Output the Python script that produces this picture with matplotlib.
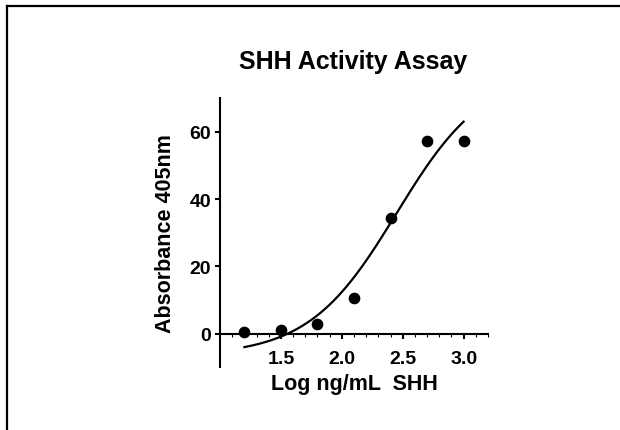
import matplotlib
matplotlib.use("Agg")
import matplotlib.pyplot as plt
from matplotlib.lines import Line2D
import numpy as np

# measured points
log_conc = [1.2, 1.5, 1.8, 2.1, 2.4, 2.7, 3.0]
absorbance = [0.6, 1.1, 2.8, 10.7, 34.4, 57.3, 57.3]

# 4PL fit parameters (bottom, top, logEC50, hill slope)
fit_bottom = -6.6
fit_top = 78.3
fit_log_ec50 = 2.45
fit_hill = 1.2

x_ticks = [1.5, 2.0, 2.5, 3.0]
y_ticks = [0, 20, 40, 60]

plt.rcParams['font.family'] = ['Liberation Sans', 'DejaVu Sans']
plt.rcParams['font.weight'] = 'bold'

fig = plt.figure(figsize=(6.2, 4.31), dpi=100)
ax = fig.add_axes([0.355, 0.1455, 0.432, 0.624])

x_fit = np.linspace(min(log_conc), max(log_conc), 200)
y_fit = fit_bottom + (fit_top - fit_bottom) / (1 + 10 ** ((fit_log_ec50 - x_fit) * fit_hill))
ax.plot(x_fit, y_fit, color='black', lw=1.6, zorder=3)
ax.plot(log_conc, absorbance, 'o', color='black', markersize=7.4, clip_on=False, zorder=4)

ax.set_xlim(1.0, 3.2)
ax.set_ylim(-10, 70)
ax.set_xticks(x_ticks)
ax.set_xticks(np.arange(1.1, 3.21, 0.1), minor=True)
ax.set_yticks(y_ticks)
ax.set_xticklabels(['%.1f' % t for t in x_ticks])

ax.spines['top'].set_visible(False)
ax.spines['right'].set_visible(False)
ax.spines['bottom'].set_position(('data', 0))
ax.spines['left'].set_linewidth(1.5)
ax.spines['bottom'].set_linewidth(1.5)

ax.tick_params(axis='x', which='major', direction='out', length=3.6, width=1.5,
               pad=8, labelsize=14)
ax.tick_params(axis='x', which='minor', direction='out', length=1.8, width=0.8)
ax.tick_params(axis='y', direction='out', length=3.6, width=1.5, pad=3, labelsize=14)
for lab in ax.get_xticklabels() + ax.get_yticklabels():
    lab.set_fontweight('bold')

ax.set_xlabel('Log ng/mL  SHH', fontsize=15.5, fontweight='bold', va='center')
ax.xaxis.set_label_coords(0.5, -0.062)
ax.set_ylabel('Absorbance 405nm', fontsize=15.5, fontweight='bold', va='center')
ax.yaxis.set_label_coords(-0.205, 0.5)

fig.text(0.569, 0.857, 'SHH Activity Assay', fontsize=18, fontweight='bold',
         ha='center', va='center')

# frame lines on top and left edge
fig.add_artist(Line2D([0.0105, 1.0], [0.983, 0.983], color='black', lw=1.6))
fig.add_artist(Line2D([0.0105, 0.0105], [0.0, 0.983], color='black', lw=1.6))

fig.savefig('out.png', dpi=100)
